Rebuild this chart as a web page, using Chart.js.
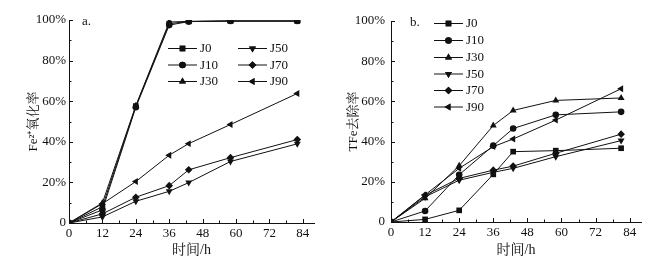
<!DOCTYPE html>
<html>
<head>
<meta charset="utf-8">
<script src="https://cdn.jsdelivr.net/npm/chart.js@4.4.1/dist/chart.umd.min.js"></script>
<style>
  body { margin: 0; background: #fff; }
  .wrap { display: flex; width: 662px; height: 268px; }
  .box { position: relative; width: 331px; height: 268px; }
</style>
</head>
<body>
<div class="wrap">
  <div class="box"><canvas id="chartA"></canvas></div>
  <div class="box"><canvas id="chartB"></canvas></div>
</div>
<script>
// time points (h)
var hoursA = [0, 12, 24, 36, 43, 58, 82];
var hoursB = [0, 12, 24, 36, 43, 58, 81];
var seriesNames = ['J0', 'J10', 'J30', 'J50', 'J70', 'J90'];

// a. Fe2+ oxidation rate (%)
var oxJ0  = [0, 8.0, 57.6, 98.2, 99.3, 99.5, 99.5];
var oxJ10 = [0, 6.5, 57.0, 97.5, 99.2, 99.5, 99.5];
var oxJ30 = [0, 9.9, 57.8, 99.0, 99.3, 99.5, 99.5];
var oxJ50 = [0, 3.0, 10.7, 15.6, 19.9, 30.3, 39.0];
var oxJ70 = [0, 4.5, 12.7, 18.4, 26.2, 32.2, 41.1];
var oxJ90 = [0, 9.5, 20.4, 33.4, 39.1, 48.5, 63.8];

// b. TFe removal rate (%)
var rmJ0  = [0, 1.3, 5.8, 23.7, 35.0, 35.5, 36.7];
var rmJ10 = [0, 5.5, 23.5, 38.0, 46.5, 53.3, 54.8];
var rmJ30 = [0, 11.8, 28.0, 48.0, 55.5, 60.5, 61.7];
var rmJ50 = [0, 12.5, 20.8, 24.7, 26.7, 32.5, 40.5];
var rmJ70 = [0, 13.3, 21.7, 25.8, 27.8, 34.2, 43.7];
var rmJ90 = [0, 13.5, 26.7, 37.5, 41.3, 50.7, 66.3];

// axis ticks: labelled ones and all tick marks
var xTicks = ['0', '12', '24', '36', '48', '60', '72', '84'];
var xTickMarks = [0, 6, 12, 18, 24, 30, 36, 42, 48, 54, 60, 66, 72, 78, 84];
var yTicks = ['0', '20%', '40%', '60%', '80%', '100%'];

var markerStyle = ['rect', 'circle', 'triangle', 'triangle', 'rectRot', 'triangle'];
var markerRot = [0, 0, 0, 180, 0, -90];
var markerSize = [4, 3.3, 4, 4, 3.8, 4];

var serif = '"Liberation Serif", "Noto Serif CJK SC", "Noto Sans CJK SC", serif';
var ink = '#111';

function makeSets(xs, lists) {
  return lists.map(function(vals, i) {
    return {
      label: seriesNames[i],
      data: vals.map(function(v, j) { return { x: xs[j], y: v }; }),
      borderColor: ink,
      backgroundColor: ink,
      borderWidth: 1,
      pointStyle: markerStyle[i],
      rotation: markerRot[i],
      pointRadius: markerSize[i],
      pointBorderWidth: 0,
      tension: 0
    };
  });
}

function drawMark(ctx, i, x, y) {
  if (Chart.helpers && Chart.helpers.drawPoint) {
    Chart.helpers.drawPoint(ctx, { pointStyle: markerStyle[i], rotation: markerRot[i], radius: markerSize[i], borderWidth: 0 }, x, y);
    ctx.fill();
  }
}

// inward tick marks plus legend and panel letter
var decor = {
  id: 'decor',
  afterDatasetsDraw: function(chart, args, opts) {
    var ctx = chart.ctx, xs = chart.scales.x, ys = chart.scales.y, area = chart.chartArea;
    ctx.save();
    ctx.strokeStyle = ink;
    ctx.lineWidth = 1;
    ctx.beginPath();
    xs.ticks.forEach(function(t) {
      var px = Math.round(xs.getPixelForValue(t.value)) + 0.5;
      var len = t.value % 12 === 0 ? 4 : 2.5;
      ctx.moveTo(px, area.bottom);
      ctx.lineTo(px, area.bottom - len);
    });
    ys.ticks.forEach(function(t) {
      var py = Math.round(ys.getPixelForValue(t.value)) + 0.5;
      var len = t.value % 20 === 0 ? 4 : 2.5;
      ctx.moveTo(area.left, py);
      ctx.lineTo(area.left + len, py);
    });
    ctx.stroke();

    ctx.font = '13px ' + serif;
    ctx.fillStyle = ink;
    ctx.textBaseline = 'middle';
    ctx.fillText(opts.letter, opts.letterX, opts.letterY);

    opts.items.forEach(function(it, i) {
      ctx.beginPath();
      ctx.moveTo(it.x, it.y + 0.5);
      ctx.lineTo(it.x + 29, it.y + 0.5);
      ctx.stroke();
      ctx.fillStyle = ink;
      drawMark(ctx, i, it.x + 14.5, it.y + 0.5);
      ctx.fillText(seriesNames[i], it.x + 32, it.y + 1);
    });
    ctx.restore();
  }
};

function options(yTitle, lay, legendOpts) {
  return {
    responsive: true,
    maintainAspectRatio: false,
    animation: false,
    layout: { padding: { left: lay.padL, right: lay.padR, top: lay.padT, bottom: lay.padB } },
    plugins: { legend: { display: false }, tooltip: { enabled: false }, decor: legendOpts },
    scales: {
      x: {
        type: 'linear', min: 0, max: 88,
        grid: { display: false, drawTicks: false },
        border: { display: true, color: ink, width: 1 },
        afterBuildTicks: function(s) { s.ticks = xTickMarks.map(function(v) { return { value: v }; }); },
        ticks: {
          autoSkip: false, maxRotation: 0, padding: 3, color: ink,
          font: { family: serif, size: 13 },
          callback: function(v) { return xTicks.indexOf(String(v)) >= 0 ? String(v) : ''; }
        },
        title: { display: true, text: '时间/h', color: ink, font: { family: serif, size: 14 }, padding: { top: 2, bottom: 0 } },
        afterFit: function(s) { s.height = lay.xH; }
      },
      y: {
        min: 0, max: 100,
        grid: { display: false, drawTicks: false },
        border: { display: true, color: ink, width: 1 },
        ticks: {
          stepSize: 10, autoSkip: false, padding: lay.yPad, color: ink,
          font: { family: serif, size: 13 },
          callback: function(v) { return v % 20 === 0 ? yTicks[v / 20] : ''; }
        },
        title: { display: true, text: yTitle, color: ink, font: { family: serif, size: 13 }, padding: { top: 0, bottom: 0 } },
        afterFit: function(s) { s.width = lay.yW; }
      }
    }
  };
}

Chart.register(decor);

new Chart(document.getElementById('chartA'), {
  type: 'line',
  data: { datasets: makeSets(hoursA, [oxJ0, oxJ10, oxJ30, oxJ50, oxJ70, oxJ90]) },
  options: options('Fe²⁺氧化率', { padL: 26, padR: 17, padT: 20, padB: 9, xH: 36, yW: 43, yPad: 3 }, {
    letter: 'a.', letterX: 82, letterY: 22,
    items: [
      { x: 168, y: 48 }, { x: 168, y: 64.5 }, { x: 168, y: 81 },
      { x: 238, y: 48 }, { x: 238, y: 64.5 }, { x: 238, y: 81 }
    ]
  })
});

new Chart(document.getElementById('chartB'), {
  type: 'line',
  data: { datasets: makeSets(hoursB, [rmJ0, rmJ10, rmJ30, rmJ50, rmJ70, rmJ90]) },
  options: options('TFe去除率', { padL: 15, padR: 21, padT: 21, padB: 9, xH: 37, yW: 45, yPad: 6 }, {
    letter: 'b.', letterX: 79, letterY: 23,
    items: [
      { x: 103, y: 23 }, { x: 103, y: 40 }, { x: 103, y: 57 },
      { x: 103, y: 73.5 }, { x: 103, y: 90 }, { x: 103, y: 106.5 }
    ]
  })
});
</script>
</body>
</html>
